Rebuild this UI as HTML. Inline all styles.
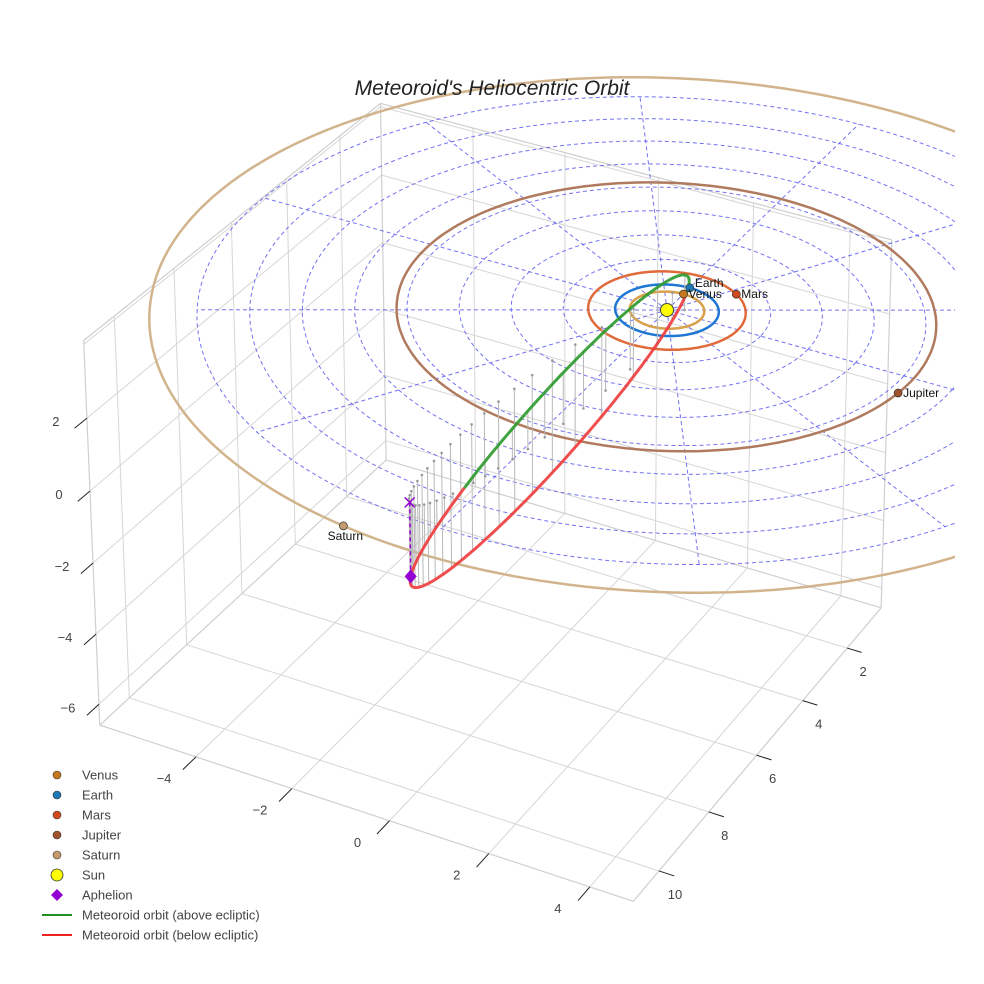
<!DOCTYPE html>
<html><head><meta charset="utf-8"><title>Meteoroid's Heliocentric Orbit</title>
<style>
html,body{margin:0;padding:0;background:#fff;}
svg{display:block;font-family:"Liberation Sans",sans-serif;}
</style></head>
<body>
<svg id="chart" width="984" height="984" viewBox="0 0 984 984" xmlns="http://www.w3.org/2000/svg">
  <defs><clipPath id="sceneClip"><rect x="0" y="0" width="955" height="984"/></clipPath></defs>
  <rect x="0" y="0" width="984" height="984" fill="#fff"/>
  <g id="box"></g>
  <g id="scene" clip-path="url(#sceneClip)"></g>
  <g id="axisLabels"></g>
  <g id="legend"></g>
  <text x="492" y="95" text-anchor="middle" font-size="21" font-style="italic" fill="#222">Meteoroid's Heliocentric Orbit</text>
</svg>
<script>
// ---- data ----
const planetNames = ['Venus','Earth','Mars','Jupiter','Saturn'];
const orbitRadii = [0.72, 1.0, 1.52, 5.2, 9.9];
const planetAngles = [-90, -90, -54, 7, 99];
const orbitColors = ['#d9a04a','#1f77d4','#e06a3a','#b07a5e','#d2b48c'];
const markerColors = ['#c8781e','#1f77b4','#d2491e','#a0522d','#c49a6c'];
const gridRings = [1,2,3,4,5,6,7,8,9];
const gridSpokes = [0,30,60,90,120,150,180,210,240,270,300,330];
const xTicks = [-4,-2,0,2,4];
const yTicks = [2,4,6,8,10];
const zTicks = [-6,-4,-2,0,2];
const xGrid = [-4,-2,0,2,4];
const yGrid = [2,4,6,8,10];
const zGrid = [-6,-4,-2,0,2,4];
const xRange = [-6.04, 4.85];
const yRange = [0.42, 11.0];
const zRange = [-6.6, 4.1];
// meteoroid orbital shape
const meteorEcc = [0.837];
const meteorPeri = [0.78];
const meteorNode = [0.039, -0.999, 0];
const meteorPlane = [-0.27, 0, -0.963];
const meteorPeriArg = [-14.1];
const dropLineCount = [44];

// ---- projection (affine + mild perspective) ----
function P(x,y,z){
  const ax=667+46*x-24*y, ay=310+13*x+22.5*y-34*z;
  const w=1-0.004*x-0.009*y-0.003*z;
  return [560+(ax-560)/w, 330+(ay-330)/w];
}
const NS='http://www.w3.org/2000/svg';
function mk(tag, attrs, parent){
  const el=document.createElementNS(NS,tag);
  for(const k in attrs) el.setAttribute(k, attrs[k]);
  parent.appendChild(el); return el;
}
function pathFrom(pts){ return pts.map((p,i)=>(i?'L':'M')+p[0].toFixed(1)+' '+p[1].toFixed(1)).join(''); }

const box=document.getElementById('box');
const scene=document.getElementById('scene');
const labs=document.getElementById('axisLabels');
const legend=document.getElementById('legend');

function line3(a,b,attrs,parent,name){
  const p1=P(...a), p2=P(...b);
  const l=mk('line',Object.assign({x1:p1[0],y1:p1[1],x2:p2[0],y2:p2[1]},attrs),parent);
  
  
  return l;
}
const gridStyle={stroke:'#d6d6d6','stroke-width':1};
const [X0,X1]=xRange,[Y0,Y1]=yRange,[Z0,Z1]=zRange;
xGrid.forEach(x=>line3([x,Y0,Z0],[x,Y1,Z0],gridStyle,box,'floor-grid-x'));
yGrid.forEach(y=>line3([X0,y,Z0],[X1,y,Z0],gridStyle,box,'floor-grid-y'));
yGrid.forEach(y=>line3([X0,y,Z0],[X0,y,Z1],gridStyle,box,'left-wall-grid-y'));
zGrid.forEach(z=>line3([X0,Y0,z],[X0,Y1,z],gridStyle,box,'left-wall-grid-z'));
xGrid.forEach(x=>line3([x,Y0,Z0],[x,Y0,Z1],gridStyle,box,'back-wall-grid-x'));
zGrid.forEach(z=>line3([X0,Y0,z],[X1,Y0,z],gridStyle,box,'back-wall-grid-z'));
const edgeStyle={stroke:'#cfcfcf','stroke-width':1.2};
[[[X0,Y1,Z0],[X1,Y1,Z0]],[[X1,Y0,Z0],[X1,Y1,Z0]],[[X0,Y1,Z0],[X0,Y1,Z1]],[[X1,Y0,Z0],[X1,Y0,Z1]],
 [[X0,Y0,Z1],[X0,Y1,Z1]],[[X0,Y0,Z1],[X1,Y0,Z1]],[[X0,Y0,Z0],[X0,Y0,Z1]],[[X0,Y0,Z0],[X0,Y1,Z0]],[[X0,Y0,Z0],[X1,Y0,Z0]]]
 .forEach(e=>line3(e[0],e[1],edgeStyle,box,'box-edge'));

const tickStyle={stroke:'#222','stroke-width':1};
function label(txt,x,y,name){
  const t=mk('text',{x:x,y:y,'text-anchor':'middle','font-size':13,fill:'#444'},labs);
  t.textContent=txt;
  
  
}
xTicks.forEach(v=>{
  line3([v,Y1,Z0],[v,Y1+0.45,Z0],tickStyle,labs,'x-tick-mark');
  const p=P(v,Y1,Z0); label(String(v).replace('-','\u2212'),p[0]-32,p[1]+26,'x-tick-label');
});
yTicks.forEach(v=>{
  line3([X1,v,Z0],[X1+0.3,v,Z0],tickStyle,labs,'y-tick-mark');
  const p=P(X1,v,Z0); label(String(v),p[0]+16,p[1]+28,'y-tick-label');
});
zTicks.forEach(v=>{
  line3([X0,Y1,v],[X0,Y1+0.4,v],tickStyle,labs,'z-tick-mark');
  const p=P(X0,Y1,v); label(String(v).replace('-','\u2212'),p[0]-31,p[1]+8,'z-tick-label');
});

// polar ecliptic grid
const dash={fill:'none',stroke:'#5a5af0','stroke-width':1,'stroke-dasharray':'4,3','stroke-opacity':0.85};
gridRings.forEach(r=>{
  const pts=[];
  for(let i=0;i<=180;i++){const a=i/180*2*Math.PI; pts.push(P(r*Math.cos(a),r*Math.sin(a),0));}
  const el=mk('path',Object.assign({d:pathFrom(pts)},dash),scene);
  
  
});
const rMax=gridRings[gridRings.length-1];
gridSpokes.forEach(deg=>{
  const a=deg*Math.PI/180;
  const el=mk('path',Object.assign({d:pathFrom([P(0,0,0),P(rMax*Math.cos(a),rMax*Math.sin(a),0)])},dash),scene);
  
  
});

planetNames.forEach((nm,i)=>{
  const r=orbitRadii[i], pts=[];
  for(let k=0;k<=240;k++){const a=k/240*2*Math.PI; pts.push(P(r*Math.cos(a),r*Math.sin(a),0));}
  const el=mk('path',{d:pathFrom(pts),fill:'none',stroke:orbitColors[i],'stroke-width':2.5},scene);
  
  
});

// meteoroid orbit
const e=meteorEcc[0], pLat=meteorPeri[0]*(1+e);
function mPoint(thDeg){
  const th=thDeg*Math.PI/180, nu=(thDeg-meteorPeriArg[0])*Math.PI/180;
  const r=pLat/(1+e*Math.cos(nu));
  return [0,1,2].map(j=>r*(Math.cos(th)*meteorNode[j]+Math.sin(th)*meteorPlane[j]));
}
// drop lines sampled uniformly in time (mean anomaly)
const N=dropLineCount[0];
for(let k=0;k<N;k++){
  const Mean=2*Math.PI*(k+0.5)/N;
  let E=Mean; for(let it=0;it<30;it++){E=E-(E-e*Math.sin(E)-Mean)/(1-e*Math.cos(E));}
  const nu=2*Math.atan2(Math.sqrt(1+e)*Math.sin(E/2),Math.sqrt(1-e)*Math.cos(E/2));
  const q=mPoint(nu*180/Math.PI+meteorPeriArg[0]);
  if(Math.abs(q[2])<0.15) continue;
  const a=P(q[0],q[1],q[2]), b=P(q[0],q[1],0);
  const l=mk('line',{x1:a[0],y1:a[1],x2:b[0],y2:b[1],stroke:'#b8b8b8','stroke-width':1},scene);
  
  
  const d=mk('circle',{cx:b[0],cy:b[1],r:1.3,fill:'#999'},scene);
  
  
}
function arc(t0,t1){const pts=[];for(let k=0;k<=200;k++){const q=mPoint(t0+(t1-t0)*k/200);pts.push(P(q[0],q[1],q[2]));}return pts;}
const red=mk('path',{d:pathFrom(arc(0,180)),fill:'none',stroke:'#ee3b3b','stroke-width':3,'stroke-opacity':0.9},scene);


const green=mk('path',{d:pathFrom(arc(180,360)),fill:'none',stroke:'#2a9a2a','stroke-width':3,'stroke-opacity':0.9},scene);



const ap=mPoint(meteorPeriArg[0]+180);
const apS=P(ap[0],ap[1],ap[2]), apG=P(ap[0],ap[1],0);
const apl=mk('line',{x1:apS[0],y1:apS[1],x2:apG[0],y2:apG[1],stroke:'#9400d3','stroke-width':1.5,'stroke-dasharray':'4,3'},scene);


const apx=mk('path',{d:`M${apG[0]-5} ${apG[1]-5}L${apG[0]+5} ${apG[1]+5}M${apG[0]-5} ${apG[1]+5}L${apG[0]+5} ${apG[1]-5}`,stroke:'#9400d3','stroke-width':1.5},scene);


const apd=mk('path',{d:`M${apS[0]} ${apS[1]-7}L${apS[0]+6} ${apS[1]}L${apS[0]} ${apS[1]+7}L${apS[0]-6} ${apS[1]}Z`,fill:'#9400d3'},scene);



const s=P(0,0,0);
const sun=mk('circle',{cx:s[0],cy:s[1],r:6.5,fill:'#ffff00',stroke:'#444','stroke-width':1},scene);



const order=[1,0,2,3,4];
order.forEach(i=>{
  const a=planetAngles[i]*Math.PI/180, r=orbitRadii[i];
  const p=P(r*Math.cos(a),r*Math.sin(a),0);
  const c=mk('circle',{cx:p[0],cy:p[1],r:4,fill:markerColors[i],stroke:'#333','stroke-width':0.7},scene);
  
  
  let lx=p[0]+5, ly=p[1]+4, anchor='start';
  if(planetNames[i]==='Earth'){ly=p[1]-1;}
  if(planetNames[i]==='Saturn'){lx=p[0]+2; ly=p[1]+14; anchor='middle';}
  const t=mk('text',{x:lx,y:ly,'font-size':12,fill:'#111','text-anchor':anchor},scene);
  t.textContent=planetNames[i];
  
  
});

const legItems=[['Venus','dot',markerColors[0]],['Earth','dot',markerColors[1]],['Mars','dot',markerColors[2]],
 ['Jupiter','dot',markerColors[3]],['Saturn','dot',markerColors[4]],['Sun','sun','#ffff00'],['Aphelion','diamond','#9400d3'],
 ['Meteoroid orbit (above ecliptic)','line','#1f8f1f'],['Meteoroid orbit (below ecliptic)','line','#ee2222']];
legItems.forEach((it,k)=>{
  const y=775+k*20;
  const g=mk('g',{},legend);
  
  
  if(it[1]==='dot') mk('circle',{cx:57,cy:y,r:4,fill:it[2],stroke:'#333','stroke-width':0.6},g);
  else if(it[1]==='sun') mk('circle',{cx:57,cy:y,r:6,fill:it[2],stroke:'#333','stroke-width':0.8},g);
  else if(it[1]==='diamond') mk('path',{d:`M57 ${y-6}L63 ${y}L57 ${y+6}L51 ${y}Z`,fill:it[2]},g);
  else mk('line',{x1:42,y1:y,x2:72,y2:y,stroke:it[2],'stroke-width':2},g);
  const t=mk('text',{x:82,y:y+4.5,'font-size':13,fill:'#444'},g);
  t.textContent=it[0];
});
</script>
</body></html>
